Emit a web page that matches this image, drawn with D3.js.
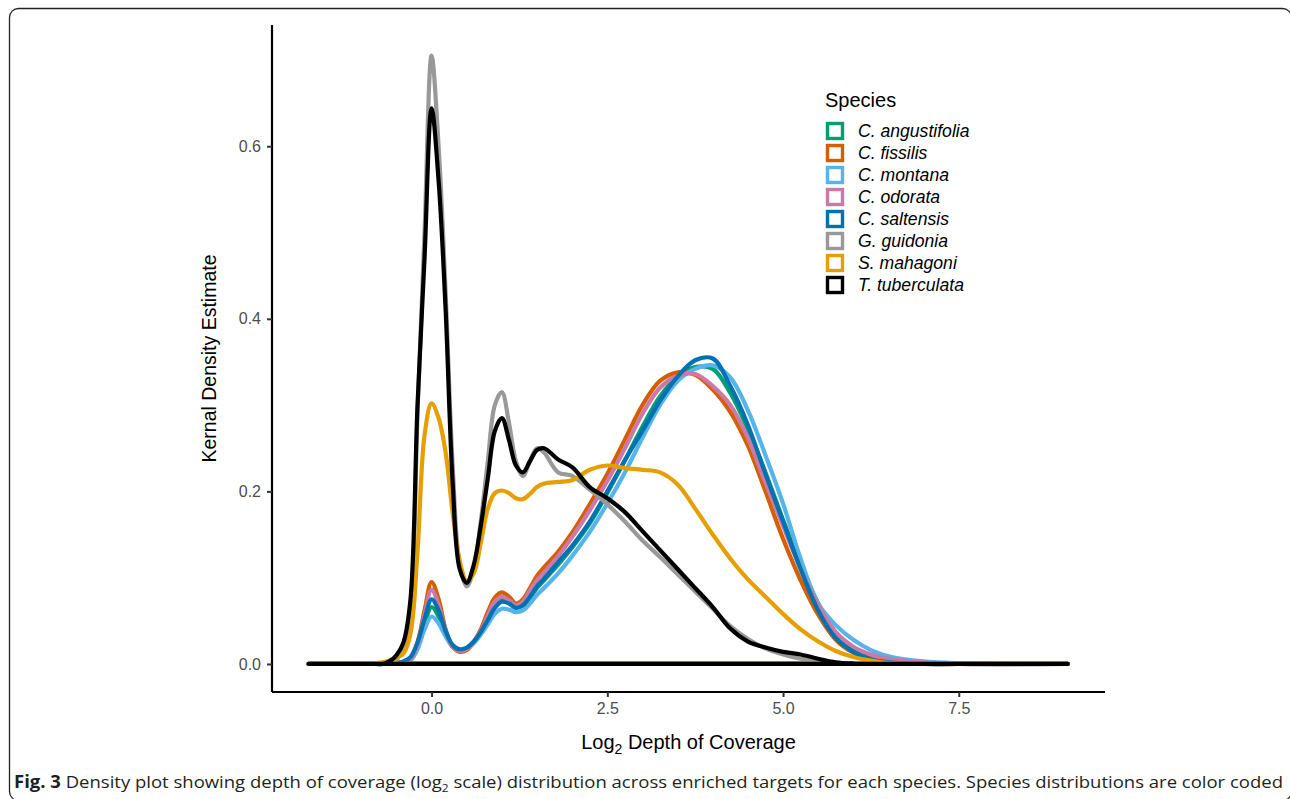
<!DOCTYPE html>
<html>
<head>
<meta charset="utf-8">
<script src="https://cdn.jsdelivr.net/npm/d3@7"></script>
<style>
  body { margin: 0; background: #fff; }
  svg { display: block; }
</style>
</head>
<body>
<svg id="chart" width="1290" height="799"></svg>
<script>
// x grid (log2 depth) shared by all density curves
var xs = [-1.75, -0.8, -0.7, -0.6, -0.5, -0.4, -0.3, -0.2, -0.1, 0, 0.1, 0.2, 0.3, 0.4, 0.5, 0.6, 0.7, 0.8, 0.9, 1.0,
          1.1, 1.2, 1.3, 1.4, 1.5, 1.6, 1.8, 2.0, 2.25, 2.5, 2.75, 3.0, 3.25, 3.5, 3.75, 4.0, 4.25, 4.5, 4.75, 5.0,
          5.25, 5.5, 5.75, 6.0, 6.25, 6.5, 7.0, 7.5, 9.05];

var species = ["C. angustifolia", "C. fissilis", "C. montana", "C. odorata", "C. saltensis", "G. guidonia", "S. mahagoni", "T. tuberculata"];
var speciesColors = ["#009E73", "#D55E00", "#56B4E9", "#CC79A7", "#0072B2", "#999999", "#E69F00", "#000000"];

var angustifolia = [0, 0, 0, 0, 0.001, 0.002, 0.005, 0.02, 0.046, 0.066, 0.055, 0.035, 0.02, 0.016, 0.018, 0.026, 0.038, 0.053, 0.067, 0.074,
                    0.072, 0.066, 0.068, 0.077, 0.088, 0.097, 0.115, 0.135, 0.163, 0.198, 0.236, 0.275, 0.31, 0.333, 0.344, 0.342, 0.314, 0.272, 0.222, 0.167,
                    0.115, 0.07, 0.036, 0.017, 0.008, 0.003, 0.001, 0, 0];
var fissilis = [0, 0, 0, 0, 0.001, 0.002, 0.006, 0.025, 0.062, 0.095, 0.075, 0.04, 0.02, 0.014, 0.016, 0.025, 0.04, 0.06, 0.077, 0.083,
                0.078, 0.07, 0.075, 0.088, 0.102, 0.112, 0.13, 0.152, 0.185, 0.22, 0.26, 0.3, 0.328, 0.338, 0.335, 0.318, 0.292, 0.253, 0.2, 0.145,
                0.097, 0.057, 0.028, 0.013, 0.006, 0.002, 0, 0, 0];
var montana = [0, 0, 0, 0, 0, 0.001, 0.004, 0.017, 0.04, 0.055, 0.047, 0.032, 0.02, 0.016, 0.018, 0.024, 0.034, 0.046, 0.058, 0.064,
               0.063, 0.06, 0.062, 0.07, 0.08, 0.088, 0.105, 0.125, 0.153, 0.186, 0.222, 0.262, 0.3, 0.328, 0.342, 0.346, 0.332, 0.294, 0.242, 0.186,
               0.122, 0.07, 0.045, 0.028, 0.016, 0.009, 0.003, 0.001, 0];
var odorata = [0, 0, 0, 0, 0.001, 0.002, 0.006, 0.022, 0.057, 0.086, 0.068, 0.038, 0.02, 0.015, 0.017, 0.025, 0.038, 0.056, 0.072, 0.078,
               0.074, 0.068, 0.072, 0.085, 0.097, 0.106, 0.125, 0.147, 0.178, 0.212, 0.25, 0.29, 0.32, 0.334, 0.336, 0.322, 0.3, 0.262, 0.21, 0.16,
               0.11, 0.068, 0.037, 0.02, 0.011, 0.006, 0.002, 0, 0];
var saltensis = [0, 0, 0, 0, 0.001, 0.003, 0.008, 0.025, 0.052, 0.075, 0.062, 0.038, 0.022, 0.017, 0.019, 0.026, 0.037, 0.051, 0.065, 0.072,
                 0.07, 0.065, 0.068, 0.078, 0.09, 0.099, 0.118, 0.137, 0.165, 0.2, 0.236, 0.27, 0.305, 0.333, 0.352, 0.354, 0.322, 0.277, 0.22, 0.165,
                 0.11, 0.062, 0.03, 0.014, 0.005, 0.002, 0, 0, 0];
var guidonia = [0, 0, 0, 0.001, 0.005, 0.02, 0.06, 0.29, 0.5, 0.705, 0.6, 0.43, 0.23, 0.115, 0.09, 0.11, 0.165, 0.235, 0.3, 0.315,
                0.28, 0.235, 0.218, 0.235, 0.25, 0.245, 0.222, 0.218, 0.202, 0.185, 0.165, 0.143, 0.124, 0.104, 0.084, 0.064, 0.044, 0.029, 0.018, 0.011,
                0.006, 0.003, 0.001, 0, 0, 0, 0, 0, 0];
var mahagoni = [0, 0.001, 0.002, 0.004, 0.007, 0.012, 0.035, 0.13, 0.265, 0.302, 0.285, 0.245, 0.175, 0.12, 0.096, 0.105, 0.14, 0.18, 0.198, 0.201,
                0.198, 0.192, 0.191, 0.197, 0.205, 0.209, 0.211, 0.213, 0.225, 0.23, 0.227, 0.225, 0.222, 0.208, 0.18, 0.15, 0.122, 0.098, 0.078, 0.058,
                0.04, 0.026, 0.015, 0.008, 0.004, 0.001, 0, 0, 0];
var tuberculata = [0, 0, 0, 0.003, 0.01, 0.025, 0.075, 0.3, 0.47, 0.644, 0.56, 0.41, 0.21, 0.11, 0.094, 0.115, 0.16, 0.215, 0.27, 0.285,
                   0.26, 0.23, 0.222, 0.235, 0.248, 0.25, 0.237, 0.228, 0.205, 0.192, 0.176, 0.154, 0.132, 0.11, 0.088, 0.066, 0.041, 0.026, 0.019, 0.014,
                   0.011, 0.006, 0.002, 0.0005, 0, 0, 0, 0, 0];

var seriesValues = [angustifolia, fissilis, montana, odorata, saltensis, guidonia, mahagoni, tuberculata];

var xTicks = [0, 2.5, 5, 7.5];
var yTicks = [0, 0.2, 0.4, 0.6];

var captionBold = "Fig. 3";
var captionText = " Density plot showing depth of coverage (log";
var captionText2 = " scale) distribution across enriched targets for each species. Species distributions are color coded";

var svg = d3.select("#chart");

// outer figure frame (bottom edge falls just outside the window)
svg.append("rect")
    .attr("x", 9.5).attr("y", 8.5)
    .attr("width", 1282).attr("height", 792)
    .attr("rx", 9)
    .style("fill", "none")
    .style("stroke", "#222")
    .style("stroke-width", 1.3);

var panel = { left: 272, right: 1105, top: 25, bottom: 692 };

var x = d3.scaleLinear().domain([-2.27, 9.58]).range([panel.left, panel.right]);
var y = d3.scaleLinear().domain([-0.0325, 0.7405]).range([panel.bottom, panel.top]);

// density outlines (ggplot style: curve + baseline)
var line = d3.line()
    .x(function (d) { return x(d[0]); })
    .y(function (d) { return y(d[1]); })
    .curve(d3.curveCatmullRom.alpha(0.5));

for (let s = 0; s < species.length; s++) {
    let pts = xs.map(function (v, i) { return [v, seriesValues[s][i]]; });
    let path = line(pts) + "L" + x(xs[0]) + "," + y(0) + "Z";
    svg.append("path")
        .attr("d", path)
        .style("fill", "none")
        .style("stroke", speciesColors[s])
        .style("stroke-width", 4.2)
        .style("stroke-linejoin", "round")
        .style("stroke-linecap", "round");
}

// axes
var xAxis = d3.axisBottom(x).tickValues(xTicks).tickFormat(d3.format(".1f")).tickSize(5).tickPadding(6);
var yAxis = d3.axisLeft(y).tickValues(yTicks).tickFormat(d3.format(".1f")).tickSize(5).tickPadding(6);

var gx = svg.append("g").attr("transform", "translate(0," + panel.bottom + ")").call(xAxis);
var gy = svg.append("g").attr("transform", "translate(" + panel.left + ",0)").call(yAxis);

[gx, gy].forEach(function (g) {
    g.select(".domain").style("stroke", "#000").style("stroke-width", 2.2);
    g.selectAll(".tick line").style("stroke", "#333").style("stroke-width", 2);
    g.selectAll(".tick text")
        .style("font-family", "'Liberation Sans', Arial, sans-serif")
        .style("font-size", "16px")
        .style("fill", "#4d4d4d");
});
gy.select(".domain").attr("d", "M0," + panel.bottom + "V" + panel.top);
gx.select(".domain").attr("d", "M" + panel.left + ",0H" + panel.right);

// axis titles
var xTitle = svg.append("text")
    .attr("x", (panel.left + panel.right) / 2)
    .attr("y", 749)
    .attr("text-anchor", "middle")
    .style("font-family", "'Liberation Sans', Arial, sans-serif")
    .style("font-size", "20px")
    .style("fill", "#000");
xTitle.append("tspan").text("Log");
xTitle.append("tspan").attr("dy", 5).style("font-size", "14px").text("2");
xTitle.append("tspan").attr("dy", -5).text(" Depth of Coverage");

svg.append("text")
    .attr("transform", "translate(216," + (panel.top + panel.bottom) / 2 + ") rotate(-90)")
    .attr("text-anchor", "middle")
    .style("font-family", "'Liberation Sans', Arial, sans-serif")
    .style("font-size", "19.5px")
    .style("fill", "#000")
    .text("Kernal Density Estimate");

// legend
var legend = svg.append("g").attr("transform", "translate(825,0)");
legend.append("text")
    .attr("x", 0).attr("y", 107)
    .style("font-family", "'Liberation Sans', Arial, sans-serif")
    .style("font-size", "20px")
    .text("Species");

species.forEach(function (name, i) {
    let cy = 131 + i * 22;
    legend.append("rect")
        .attr("x", 2.5).attr("y", cy - 7.5)
        .attr("width", 15).attr("height", 15)
        .style("fill", "#fff")
        .style("stroke", speciesColors[i])
        .style("stroke-width", 3.4);
    legend.append("text")
        .attr("x", 33).attr("y", cy + 6)
        .style("font-family", "'Liberation Sans', Arial, sans-serif")
        .style("font-size", "17.6px")
        .style("font-style", "italic")
        .text(name);
});

// caption
var cap = svg.append("text")
    .attr("x", 14).attr("y", 788)
    .attr("textLength", 1269)
    .attr("lengthAdjust", "spacingAndGlyphs")
    .style("font-family", "'Open Sans', sans-serif")
    .style("font-size", "17px")
    .style("fill", "#231f20");
cap.append("tspan").style("font-weight", "bold").text(captionBold);
cap.append("tspan").text(captionText);
cap.append("tspan").attr("dy", 4).style("font-size", "11px").text("2");
cap.append("tspan").attr("dy", -4).text(captionText2);
</script>
</body>
</html>
